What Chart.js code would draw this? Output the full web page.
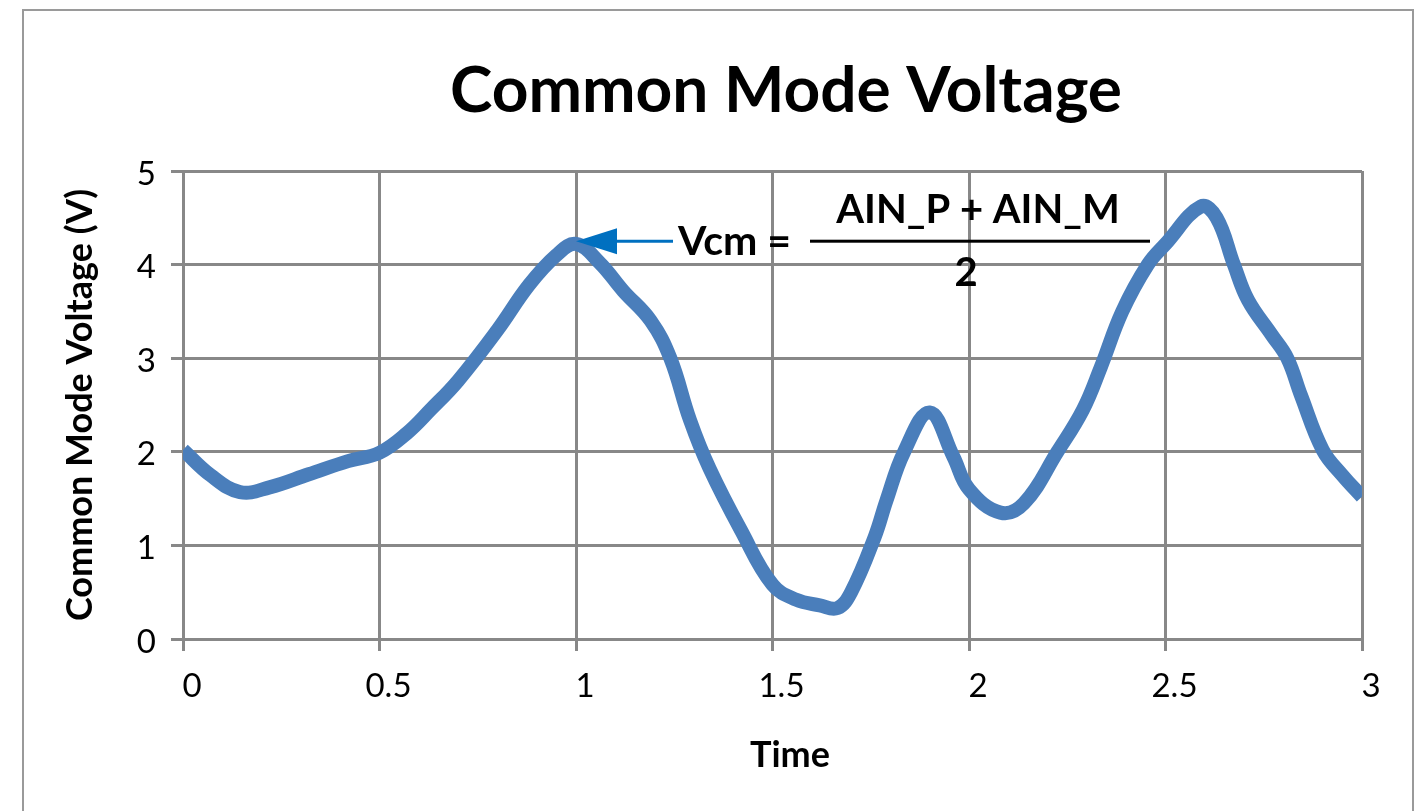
<!DOCTYPE html>
<html>
<head>
<meta charset="utf-8">
<script src="https://cdn.jsdelivr.net/npm/chart.js@4.4.1/dist/chart.umd.min.js"></script>
<style>
  html, body { margin: 0; padding: 0; background: #fff; overflow: hidden; }
  #wrap { position: relative; width: 1427px; height: 811px; }
  #frame { position: absolute; left: 22px; top: 9px; width: 1388px; height: 900px; border: 2px solid #9a9a9a; }
  #chart { position: absolute; left: 0; top: 0; }
</style>
</head>
<body>
<div id="wrap">
  <div id="frame"></div>
  <canvas id="chart" width="1427" height="811"></canvas>
</div>
<script>
'use strict'

// values
var timeValues = [
    0, 0.07, 0.145, 0.22, 0.32, 0.42, 0.5, 0.57, 0.63, 0.7, 0.8, 0.88, 0.95, 1.0,
    1.06, 1.12, 1.19, 1.24, 1.29, 1.34, 1.42, 1.5, 1.56, 1.62, 1.665, 1.7, 1.76, 1.79,
    1.835, 1.9, 1.96, 2.0, 2.08, 2.14, 2.225, 2.29, 2.335, 2.39, 2.455, 2.5, 2.59, 2.63,
    2.674, 2.71, 2.77, 2.81, 2.845, 2.9, 2.95, 3.0
];
var voltageValues = [
    2.02, 1.75, 1.57, 1.62, 1.76, 1.9, 1.99, 2.2, 2.45, 2.76, 3.3, 3.78, 4.1, 4.22,
    4.02, 3.72, 3.4, 3.0, 2.34, 1.82, 1.16, 0.58, 0.42, 0.36, 0.33, 0.5, 1.09, 1.48,
    2.0, 2.42, 1.95, 1.6, 1.35, 1.45, 2.0, 2.45, 2.9, 3.5, 4.0, 4.22, 4.62, 4.5,
    4.0, 3.62, 3.25, 3.0, 2.6, 2.02, 1.75, 1.52
];

var xTickLabels = ['0', '0.5', '1', '1.5', '2', '2.5', '3'];
var yTickLabels = ['0', '1', '2', '3', '4', '5'];

var chartTitle = 'Common Mode Voltage';
var xAxisTitle = 'Time';
var yAxisTitle = 'Common Mode Voltage (V)';
var noteLabel = 'Vcm =';
var noteNumerator = 'AIN_P + AIN_M';
var noteDenominator = '2';
var notePoint = { x: 1.0, y: 4.25 };

var points = timeValues.map(function (t, i) { return { x: t, y: voltageValues[i] }; });

var FONT = 'Lato';
var gridGrey = '#888888';

// titles and the Vcm note are drawn on top of the chart
var textPlugin = {
    id: 'textPlugin',
    afterDraw: function (chart) {
        var ctx = chart.ctx;
        var xs = chart.scales.x, ys = chart.scales.y;
        ctx.save();
        ctx.fillStyle = '#000';
        ctx.textAlign = 'center';
        ctx.textBaseline = 'alphabetic';

        ctx.font = 'bold 64px ' + FONT;
        ctx.fillText(chartTitle, 786, 112);

        ctx.font = 'bold 36px ' + FONT;
        ctx.fillText(xAxisTitle, 790, 767);

        ctx.save();
        ctx.translate(92, 405);
        ctx.rotate(-Math.PI / 2);
        ctx.fillText(yAxisTitle, 0, 0);
        ctx.restore();

        // arrow pointing at the first peak
        var tipX = xs.getPixelForValue(notePoint.x);
        var tipY = ys.getPixelForValue(notePoint.y);
        ctx.strokeStyle = '#0070c0';
        ctx.fillStyle = '#0070c0';
        ctx.lineWidth = 3;
        ctx.beginPath();
        ctx.moveTo(tipX + 36, tipY);
        ctx.lineTo(tipX + 97, tipY);
        ctx.stroke();
        ctx.beginPath();
        ctx.moveTo(tipX, tipY);
        ctx.lineTo(tipX + 41, tipY - 13);
        ctx.lineTo(tipX + 41, tipY + 13);
        ctx.closePath();
        ctx.fill();

        ctx.fillStyle = '#000';
        ctx.textAlign = 'left';
        ctx.font = 'bold 41px ' + FONT;
        ctx.fillText(noteLabel, tipX + 102, tipY + 14);

        ctx.fillRect(tipX + 234, tipY - 1.5, 340, 3);
        ctx.textAlign = 'center';
        ctx.font = 'bold 40px ' + FONT;
        ctx.fillText(noteNumerator, tipX + 402, tipY - 18);
        ctx.fillText(noteDenominator, tipX + 390, tipY + 45);
        ctx.restore();
    }
};

new Chart(document.getElementById('chart'), {
    type: 'line',
    data: {
        datasets: [{
            data: points,
            borderColor: '#4a7ebb',
            borderWidth: 14,
            pointRadius: 0,
            tension: 0.4,
            fill: false,
            borderJoinStyle: 'round'
        }]
    },
    options: {
        responsive: false,
        animation: false,
        devicePixelRatio: 1,
        layout: {
            padding: { left: 0, right: 65, top: 171, bottom: 0 }
        },
        plugins: {
            legend: { display: false },
            tooltip: { enabled: false },
            title: { display: false }
        },
        scales: {
            x: {
                type: 'linear',
                min: 0,
                max: 3,
                afterFit: function (scale) { scale.height = 172; },
                afterBuildTicks: function (scale) {
                    scale.ticks = xTickLabels.map(function (l) { return { value: parseFloat(l) }; });
                },
                ticks: {
                    callback: function (v) { return xTickLabels[Math.round(v * 2)]; },
                    color: '#000',
                    font: { family: FONT, size: 33 },
                    padding: 16,
                    labelOffset: 9,
                    maxRotation: 0
                },
                grid: { color: gridGrey, lineWidth: 3, tickLength: 12, tickColor: gridGrey },
                border: { display: true, color: gridGrey, width: 3 }
            },
            y: {
                min: 0,
                max: 5,
                afterFit: function (scale) { scale.width = 183; },
                afterBuildTicks: function (scale) {
                    scale.ticks = yTickLabels.map(function (l) { return { value: parseFloat(l) }; });
                },
                ticks: {
                    callback: function (v) { return yTickLabels[Math.round(v)]; },
                    color: '#000',
                    font: { family: FONT, size: 33 },
                    padding: 15,
                    labelOffset: 3
                },
                grid: { color: gridGrey, lineWidth: 3, tickLength: 12, tickColor: gridGrey },
                border: { display: true, color: gridGrey, width: 3 }
            }
        }
    },
    plugins: [textPlugin]
});
</script>
</body>
</html>
